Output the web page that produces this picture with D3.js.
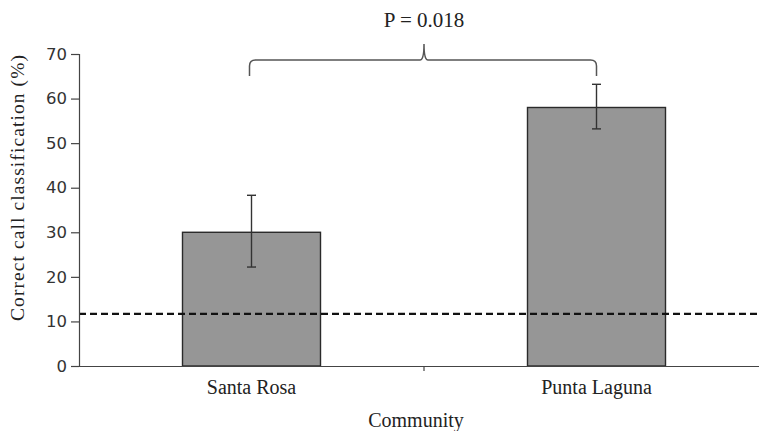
<!DOCTYPE html>
<html><head><meta charset="utf-8">
<script src="https://cdn.jsdelivr.net/npm/d3@7/dist/d3.min.js"></script>
<style>body{margin:0;background:#fff}</style>
</head><body>
<svg id="c" width="759" height="431"></svg>
<script>
const categories = ["Santa Rosa", "Punta Laguna"];
const values = [30, 58];
const errLow = [22.2, 53.2];
const errHigh = [38.3, 63.2];
const chanceLevel = 11.7;
const yTicks = [0, 10, 20, 30, 40, 50, 60, 70];
const pLabel = "P = 0.018";

const svg = d3.select("#c");
const x0 = 79, x1 = 769, yTop = 54, yBot = 366;
const x = d3.scaleBand().domain(categories).range([x0, x1]).paddingInner(0.6).paddingOuter(0.3);
const y = d3.scaleLinear().domain([0, 70]).range([yBot, yTop]);
const cx = d => x(d) + x.bandwidth() / 2;
const serif = "Liberation Serif, Times New Roman, serif";

// bars
svg.selectAll("rect.bar").data(categories).join("rect")
  .attr("x", d => x(d)).attr("y", (d, i) => y(values[i]))
  .attr("width", x.bandwidth()).attr("height", (d, i) => y(0) - y(values[i]))
  .attr("fill", "#969696").attr("stroke", "#2a2a2a").attr("stroke-width", 1.4);

// error bars
categories.forEach((d, i) => {
  const g = svg.append("g").attr("stroke", "#333").attr("stroke-width", 1.4);
  g.append("line").attr("x1", cx(d)).attr("x2", cx(d)).attr("y1", y(errHigh[i])).attr("y2", y(errLow[i]));
  g.append("line").attr("x1", cx(d) - 4.5).attr("x2", cx(d) + 4.5).attr("y1", y(errHigh[i])).attr("y2", y(errHigh[i]));
  g.append("line").attr("x1", cx(d) - 4.5).attr("x2", cx(d) + 4.5).attr("y1", y(errLow[i])).attr("y2", y(errLow[i]));
});

// dashed chance line
svg.append("line").attr("x1", x0).attr("x2", 759).attr("y1", y(chanceLevel)).attr("y2", y(chanceLevel))
  .attr("stroke", "#111").attr("stroke-width", 2.4).attr("stroke-dasharray", "7,4");

// y axis
const yAxis = svg.append("g").attr("transform", `translate(${x0},0)`)
  .call(d3.axisLeft(y).tickValues(yTicks).tickSize(8).tickPadding(4));
yAxis.select(".domain").attr("stroke", "#444").attr("stroke-width", 1.2);
yAxis.selectAll(".tick line").attr("stroke", "#444").attr("stroke-width", 1.2);
yAxis.selectAll(".tick text").attr("font-family", "DejaVu Sans, Verdana, sans-serif").attr("font-size", 16.5).attr("fill", "#333");

// x axis
const xAxis = svg.append("g").attr("transform", `translate(0,${yBot})`)
  .call(d3.axisBottom(x).tickSize(0).tickPadding(14));
xAxis.select(".domain").attr("stroke", "#444").attr("stroke-width", 1.2);
xAxis.selectAll(".tick text").attr("font-family", serif).attr("font-size", 20).attr("fill", "#222");
// middle separator tick
const mid = (cx(categories[0]) + cx(categories[1])) / 2;
svg.append("line").attr("x1", mid).attr("x2", mid).attr("y1", yBot).attr("y2", yBot + 5).attr("stroke", "#444").attr("stroke-width", 1.2);

// axis titles
svg.append("text").attr("x", 416).attr("y", 427).attr("text-anchor", "middle")
  .attr("font-family", serif).attr("font-size", 20).attr("fill", "#222").text("Community");
svg.append("text").attr("transform", "translate(24,188) rotate(-90)").attr("text-anchor", "middle")
  .attr("font-family", serif).attr("font-size", 19.5).attr("fill", "#222")
  .attr("textLength", 266).attr("lengthAdjust", "spacing")
  .text("Correct call classification (%)");

// bracket
const bl = cx(categories[0]) - 2, br = cx(categories[1]), by = 60, bm = mid, r = 6;
const path = d3.path();
path.moveTo(bl, by + 16);
path.lineTo(bl, by + r);
path.quadraticCurveTo(bl, by, bl + r, by);
path.lineTo(bm - 4, by);
path.quadraticCurveTo(bm, by, bm, by - 16);
path.quadraticCurveTo(bm, by, bm + 4, by);
path.lineTo(br - r, by);
path.quadraticCurveTo(br, by, br, by + r);
path.lineTo(br, by + 16);
svg.append("path").attr("d", path.toString()).attr("fill", "none").attr("stroke", "#555").attr("stroke-width", 1.5);

svg.append("text").attr("x", bm).attr("y", 27).attr("text-anchor", "middle")
  .attr("font-family", serif).attr("font-size", 21).attr("fill", "#222").text(pLabel);
</script>
</body></html>
